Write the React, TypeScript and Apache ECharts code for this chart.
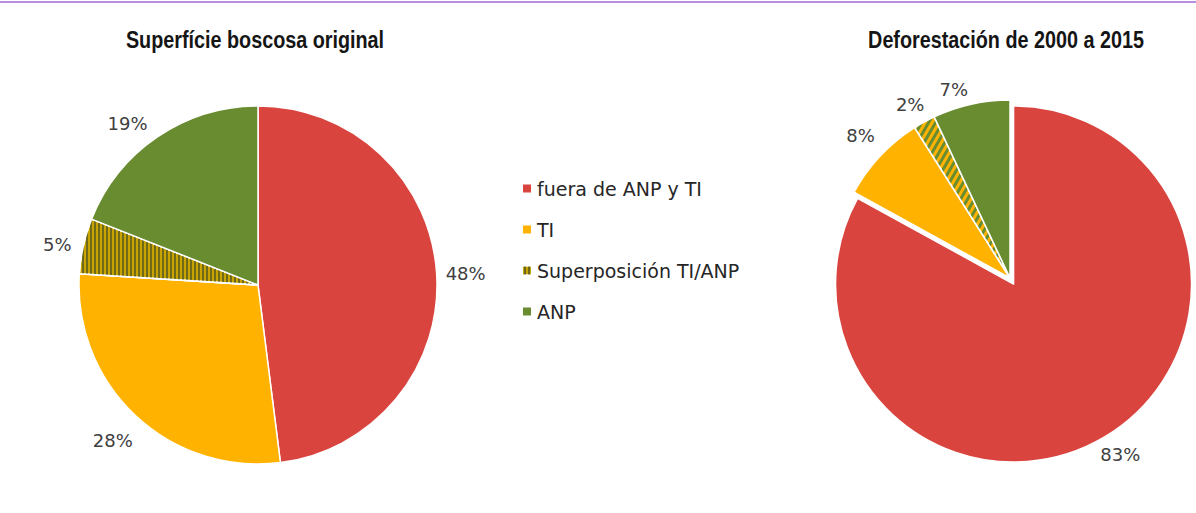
import React, { useEffect, useRef } from "react";
import * as echarts from "echarts";

const categories = ["fuera de ANP y TI", "TI", "Superposición TI/ANP", "ANP"];
const originalValues = [48, 28, 5, 19];
const deforestValues = [83, 8, 2, 7];
const titles = ["Superfície boscosa original", "Deforestación de 2000 a 2015"];

const RED = "#d9443f";
const YELLOW = "#ffb300";
const GREEN = "#688c2f";

const labelFont = "'DejaVu Sans', sans-serif";
const titleFont = "'Liberation Sans', Arial, sans-serif";

// small nudges for the label text (px)
const leftNudge = [
  [-3, 0],
  [9, 15],
  [4, 2],
  [0, -2],
];
const rightNudge = [
  [-15, 2],
  [2, -4],
  [11, -10],
  [1, -5],
];

export default function App() {
  const ref = useRef<HTMLDivElement>(null);
  useEffect(() => {
    const chart = echarts.init(ref.current!, null, { renderer: "svg" });
    const leftStyles = [
      { color: RED },
      { color: YELLOW },
      {
        color: "#c9a300",
        decal: {
          symbol: "rect",
          symbolSize: 1,
          color: "#6f6a18",
          dashArrayX: [1, 0],
          dashArrayY: [1.5, 1.5],
          rotation: Math.PI / 2,
        },
      },
      { color: GREEN },
    ];
    const rightStyles = [
      { color: RED },
      { color: YELLOW },
      {
        color: YELLOW,
        decal: {
          symbol: "rect",
          symbolSize: 1,
          color: GREEN,
          dashArrayX: [1, 0],
          dashArrayY: [2.5, 2.5],
          rotation: -Math.PI / 3,
        },
      },
      { color: GREEN },
    ];
    const leftLen = [10, 14, 14, 14];
    const rightLen = [18, 24, 16, 10];
    const mkData = (vals: number[], styles: any[], lens: number[], sel: number) =>
      vals.map((v, i) => ({
        name: categories[i],
        value: v,
        selected: i === sel,
        itemStyle: { ...styles[i], borderColor: "#ffffff", borderWidth: 1.5 },
        labelLine: { show: false, length: lens[i], length2: 0 },
      }));
    const labelCfg = {
      show: true,
      position: "outside",
      formatter: "{c}%",
      color: "#404040",
      fontSize: 18,
      fontFamily: labelFont,
      distanceToLabelLine: 2,
    };
    const titleText = (t: string, x: number) => ({
      type: "text",
      x,
      y: 40,
      scaleX: 0.86,
      style: {
        text: t,
        align: "center",
        verticalAlign: "middle",
        fontFamily: titleFont,
        fontWeight: "bold",
        fontSize: 23,
        fill: "#151515",
      },
    });
    chart.setOption({
      animation: false,
      backgroundColor: "#ffffff",
      legend: {
        orient: "vertical",
        left: 516,
        top: 174,
        itemWidth: 10,
        itemHeight: 10,
        itemGap: 22,
        icon: "rect",
        data: categories,
        selectedMode: false,
        textStyle: { fontSize: 19, fontFamily: labelFont, color: "#262626" },
      },
      graphic: [
        {
          type: "line",
          shape: { x1: 0, y1: 2, x2: 1196, y2: 2 },
          style: { stroke: "#b88ee0", lineWidth: 2 },
        },
        titleText(titles[0], 255),
        titleText(titles[1], 1006),
      ],
      series: [
        {
          type: "pie",
          center: [258, 285],
          radius: 179,
          startAngle: 90,
          clockwise: true,
          selectedMode: false,
          label: labelCfg,
          labelLayout: (p: any) => ({
            dx: leftNudge[p.dataIndex][0],
            dy: leftNudge[p.dataIndex][1],
          }),
          data: mkData(originalValues, leftStyles, leftLen, -1),
        },
        {
          type: "pie",
          center: [1010, 278],
          radius: 178,
          startAngle: 90,
          clockwise: true,
          selectedMode: "single",
          selectedOffset: 7,
          label: labelCfg,
          labelLayout: (p: any) => ({
            dx: rightNudge[p.dataIndex][0],
            dy: rightNudge[p.dataIndex][1],
          }),
          data: mkData(deforestValues, rightStyles, rightLen, 0),
        },
      ],
    });
    return () => chart.dispose();
  }, []);
  return (
    <div
      ref={ref}
      style={{ position: "fixed", left: 0, top: 0, width: 1196, height: 513 }}
    />
  );
}
